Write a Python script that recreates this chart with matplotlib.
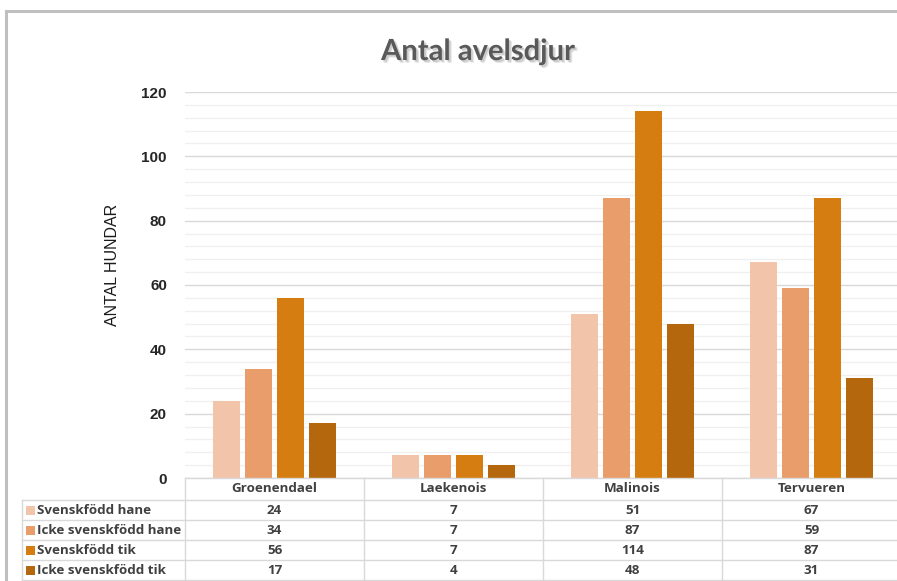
import matplotlib.pyplot as plt
import matplotlib.patheffects as pe
from matplotlib.patches import Rectangle
import numpy as np

# data
breeds = ["Groenendael", "Laekenois", "Malinois", "Tervueren"]
series_names = ["Svenskfödd hane", "Icke svenskfödd hane", "Svenskfödd tik", "Icke svenskfödd tik"]
svensk_hane = [24, 7, 51, 67]
icke_hane = [34, 7, 87, 59]
svensk_tik = [56, 7, 114, 87]
icke_tik = [17, 4, 48, 31]
series = [svensk_hane, icke_hane, svensk_tik, icke_tik]
colors = ["#F2C4AA", "#E99D6A", "#D67D12", "#B5670D"]

W, H = 897, 581
fig = plt.figure(figsize=(W / 100, H / 100), dpi=100)
fig.patch.set_facecolor("white")

def fx(px):
    return px / W

def fy(py):
    return 1 - py / H

# outer frame (cropped at right/bottom)
fig.patches.append(Rectangle((fx(6), fy(600)), fx(950), fy(11) - fy(600),
                             transform=fig.transFigure, fill=False,
                             edgecolor="#BFBFBF", linewidth=2.2))

left, right, top, bottom = 185, 901, 92, 478
ax = fig.add_axes([fx(left), fy(bottom), fx(right) - fx(left), fy(top) - fy(bottom)])

x = np.arange(len(breeds))
step = 0.179
width = 0.151
for i, vals in enumerate(series):
    ax.bar(x + (i - 1.5) * step, vals, width, color=colors[i], zorder=3)

ax.set_xlim(-0.5, 3.5)
ax.set_ylim(0, 120)
ax.set_yticks(range(0, 121, 20))
ax.set_yticks(range(0, 121, 4), minor=True)
ax.grid(axis="y", which="major", color="#D9D9D9", linewidth=1.0, zorder=0)
ax.grid(axis="y", which="minor", color="#F0F0F0", linewidth=1.0, zorder=0)
ax.set_xticks([])
for s in ax.spines.values():
    s.set_visible(False)
ax.tick_params(axis="y", which="both", length=0, pad=13)
for lbl in ax.get_yticklabels():
    lbl.set_fontfamily("Liberation Sans")
    lbl.set_fontweight("bold")
    lbl.set_fontsize(11)
    lbl.set_color("#262626")

fig.text(fx(112), fy(265), "ANTAL HUNDAR", rotation=90, ha="center", va="center",
         fontfamily="Liberation Sans", fontsize=11.5, color="#1a1a1a")

# title with soft shadow
fig.text(fx(478), fy(52), "Antal avelsdjur", ha="center", va="center",
         fontsize=21, fontweight="bold", fontfamily="Lato", color="#595959",
         path_effects=[pe.SimplePatchShadow(offset=(2, -2), shadow_rgbFace="#b0b0b0", alpha=0.35),
                       pe.SimplePatchShadow(offset=(1.2, -1.2), shadow_rgbFace="#999999", alpha=0.35),
                       pe.Normal()])

# data table under the chart
grid_c = "#D9D9D9"
txt_c = "#404040"
col_w = (right - left) / len(breeds)
row_y = [478, 500, 520, 540, 560, 580]
tfont = dict(fontfamily="Open Sans", fontweight="bold", fontsize=9.6, color=txt_c)

def hline(y, x0, x1):
    fig.add_artist(plt.Line2D([fx(x0), fx(x1)], [fy(y), fy(y)], color=grid_c,
                              linewidth=1, transform=fig.transFigure))

def vline(xp, y0, y1):
    fig.add_artist(plt.Line2D([fx(xp), fx(xp)], [fy(y0), fy(y1)], color=grid_c,
                              linewidth=1, transform=fig.transFigure))

hline(478, left, right)
for y in row_y[1:]:
    hline(y, 22, right)
vline(22, 500, 600)
for j in range(len(breeds) + 1):
    vline(left + j * col_w, 478, 600)

for j, b in enumerate(breeds):
    cx = left + (j + 0.5) * col_w
    fig.text(fx(cx), fy(489), b, ha="center", va="center", **tfont)
    for i, vals in enumerate(series):
        cy = (row_y[i + 1] + row_y[i + 2]) / 2
        fig.text(fx(cx), fy(cy), str(vals[j]), ha="center", va="center", **tfont)

for i, name in enumerate(series_names):
    cy = (row_y[i + 1] + row_y[i + 2]) / 2
    fig.patches.append(Rectangle((fx(26), fy(cy + 4.5)), fx(9), fy(cy - 4.5) - fy(cy + 4.5),
                                 transform=fig.transFigure, facecolor=colors[i],
                                 edgecolor="none"))
    fig.text(fx(37), fy(cy), name, ha="left", va="center", **tfont)

fig.savefig("out.png", dpi=100)
